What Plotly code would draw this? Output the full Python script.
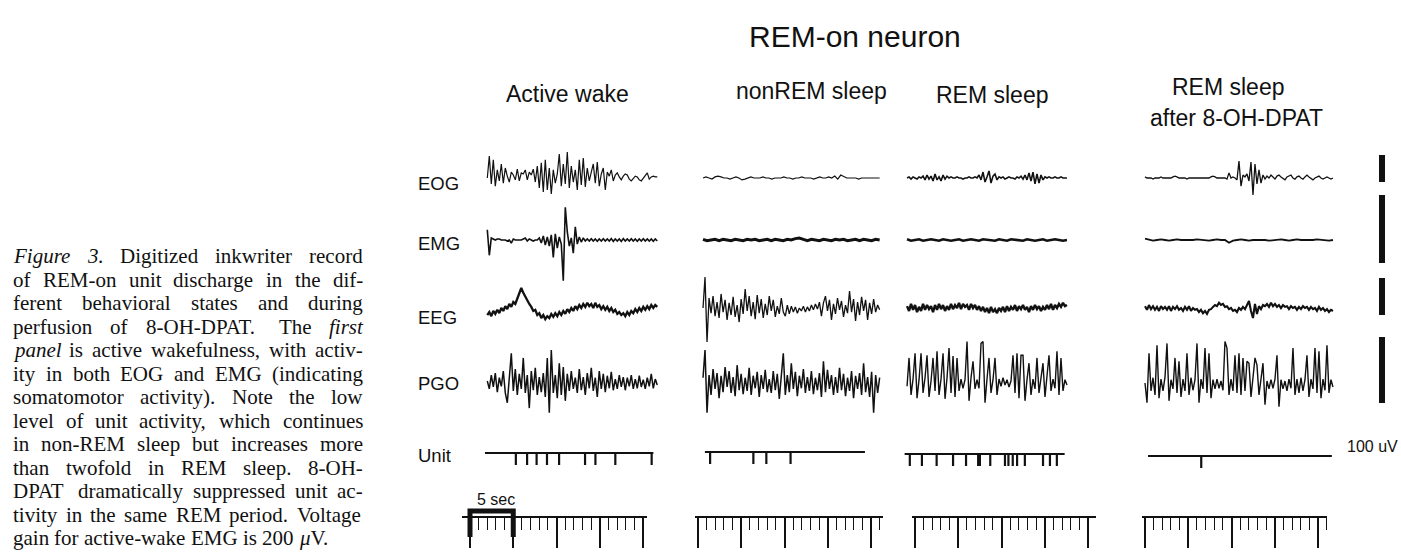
import numpy as np
import plotly.graph_objects as go

W, H = 1401, 553
PX_PER_S = 8.65          # paper speed of the record: pixels per second
INK = "#111111"

# ---------------- recorded channels (µV) ----------------
eog_wake = [0, 81, -22, 67, -30, 30, -11, 52, -19, 37, 7, -15, 22, 11, -7, 33, -11, 19, 15, 30,
            -7, 22, 11, 33, -15, 44, -37, 56, -52, 67, -44, 37, -59, 30, -19, 15, 89, -30, 52, -22,
            96, -37, 44, -15, 30, -44, 67, -26, 74, -33, 37, -11, 22, 52, -19, 59, -30, 15, 37, -44,
            22, 7, 30, -11, 11, 19, 4, -7, 7, 15, 11, -4, -11, 0, 7, 4, -7, -11, 0, 11,
            19, -4, 4, 7, 4, 4]
eog_nrem = [0, 4, 0, -4, 4, 7, 4, 0, 0, -4, 0, 4, 0, -7, -4, 0, 4, 0, 0, 0,
            4, 0, 0, -4, 0, 0, 0, 4, 0, 0, -4, 0, 0, 4, 0, 0, 0, -4, 0, 4,
            0, 0, 4, 0, 7, -4, 11, 4, 0, 0, 0, 0, -4, 0, 0, 0, 0, 0, 0, 0]
eog_rem = [0, 4, -4, 4, 0, -4, 4, 0, 7, -7, 11, -4, 7, -11, 15, -7, 4, -11, 11, -4,
           7, 0, 4, 0, 0, 4, 0, 0, -4, 0, 0, 4, 0, 0, 4, 0, 11, -7, 22, -15,
           4, 26, -19, 7, 15, -7, 4, 0, 4, -4, 0, 4, 0, 0, -4, 4, 0, 7, -4, 11,
           -7, 19, -11, 22, -22, 15, -19, 11, -7, 4, 0, 4, 0, 0, 4, 0, 0, 4, 0, 0, 0]
eog_dpat = [4, 0, 0, 0, -4, 0, 0, 0, 4, 0, 0, 0, 0, 0, 4, 7, 4, 0, 0, 0,
            0, -4, 0, 0, 0, 0, 0, 0, 0, 0, 0, 0, 0, 4, 7, 4, 0, 0, 0, 0,
            0, -4, 19, 0, 4, 0, -7, 63, -30, 11, 4, 15, -11, 59, -63, 52, -22, 30, -19, 11,
            -4, 7, 0, 11, 4, -4, 7, 11, 4, 0, -7, 4, 7, 11, 0, -4, 4, 7, 0, -4,
            4, 11, 4, 0, -7, 0, 4, 7, 0, -4, 0, 4, 0, -4, 0]

emg_wake = [30, -45, 6, 3, 0, 3, 3, 0, 0, 0, -3, 0, -9, 3, 0, 0, 0, 0, 3, 6,
            -3, 3, 0, -3, 0, 0, 6, -9, 12, -15, 9, -18, 15, -51, 18, -24, 9, -12, -120, 96,
            24, -18, 6, -39, 39, -12, 9, -6, 6, -3, 3, -3, 4, -3, 3, -4, 3, -3, 4, -3,
            3, -3, 4, -4, 3, -3, 3, -4, 4, -3, 3, -3, 4, -3, 3, -4, 3, -3, 4, -3,
            3, -3, 3, -4, 3, -3]
emg_nrem = [1, -1, 0, 1, -1, 1, 0, -1, 1, 0, -1, 1, 0, 1, -1, 0, 1, -1, 1, 0,
            -1, 1, 0, 2, 3, 1, -1, 1, 0, -1, 1, 0, -1, 1, 0, 1, -1, 0, 1, -1,
            1, 0, -1, 1, 0]
emg_rem = [1, -1, 0, 1, -1, 0, 1, 0, -1, 1, 0, -1, 0, 1, -1, 0, 1, 0, -1, 1,
           0, 0, -1, 1, 0, -1, 1, 0, 0, -1, 1, 0, -1, 0, 1, -1, 0, 1, 0, -1, 0]
emg_dpat = [2, 0, -1, 0, 1, 0, -1, 0, 1, 0, 0, -1, 0, 1, 0, 0, -1, 0, 1, 0,
            0, -4, -1, 0, 1, 0, -1, 0, 0, 1, 0, -1, 0, 0, 1, 0, -1, 0, 1, 0,
            0, -1, 0, 1, 0, 0, -1, 0]

eeg_wake = [-19, -11, -22, -8, -16, -5, -14, 0, -8, 5, -3, 11, 3, 16, 11, 27, 38, 54, 41, 30,
            22, 11, 3, -8, -5, -19, -14, -27, -19, -30, -22, -27, -16, -24, -14, -22, -11, -19, -8, -16,
            -3, -11, 0, -8, 5, -3, 8, 0, 11, 3, 14, 5, 11, 0, 14, 3, 8, -3, 5, -5,
            3, -8, 0, -11, -5, -16, -11, -19, -14, -22, -11, -19, -8, -14, -3, -11, 0, -8, 3, -5,
            5, -3, 8, 0, 8, 3]
eeg_nrem = [0, 84, -92, 27, -14, 32, -22, 16, -27, 38, -11, 22, -32, 14, -19, 30, -24, 8, -38, 24,
            -16, 51, -8, 32, -22, 16, -30, 35, -14, 24, -27, 11, -19, 32, -8, 22, -24, 5, -16, 27,
            -11, -22, 8, -16, 5, -11, 3, -14, 0, -8, 5, -11, 3, -8, 8, -5, 11, -3, 16, -22,
            14, 32, -8, 22, -32, 11, -16, 27, -5, 19, -24, 8, -14, 46, -11, 24, -35, 16, -19, 30,
            -8, 22, -32, 14, -16, 24, -11, 8, -5]
eeg_rem = [5, -8, 11, -5, 8, -11, 3, -8, 11, -5, 8, -3, 5, -11, 8, -5, 11, -3, 8, -8,
           5, -5, 11, -3, 8, 0, 14, -3, 11, 3, 8, -5, 11, 0, 8, -5, 5, -8, 3, -11,
           0, -14, 3, -11, -3, -14, 0, -8, 3, -11, 5, -8, 3, -5, 8, -8, 5, -3, 8, -5,
           3, -11, 5, -5, 8, -3, 5, -8, 3, -5, 8, -3, 11, -5, 8, 0, 11, 3, 14, 5, 8]
eeg_dpat = [5, -5, 8, -3, 5, -5, 3, -8, 5, -3, 3, -5, 5, -8, 3, -3, 5, -5, 0, -8,
            3, -5, 5, -8, 0, -5, -3, -11, -5, -14, -8, -16, -5, -3, 3, 8, 5, 14, 8, 11,
            3, 5, -3, 0, -8, -5, -11, 0, -5, 3, -3, 8, 19, -8, -27, 11, -16, 5, -3, 8,
            5, 11, 3, 14, 5, 11, 3, 8, 0, 8, 3, 5, -3, 5, 0, 3, -5, 3, -3, 5,
            0, 3, -5, 3, -3, 0, -8, 3, -5, 0, -8, -3, -11, -5, -8]

pgo_wake = [3, -9, 12, -6, 15, -14, 8, -5, 18, -15, -30, 9, 45, -12, 21, -18, 14, -9, 38, -15,
            12, -38, 18, -11, 23, -18, 9, -14, 15, -21, 38, -45, 50, -15, 12, -23, 30, -18, 24, -27,
            14, -12, 18, -9, 8, -15, 21, -11, 9, -18, 15, -8, 23, -12, 8, -21, 18, -9, 14, -14,
            11, -8, 17, -11, 6, -9, 12, -6, 9, -11, 8, -5, 12, -9, 6, -8, 11, -6, 5, -9,
            8, -5, 14, -8, 6, -3]
pgo_nrem = [8, 50, -45, 12, -18, 21, -9, 15, -23, 11, -14, 24, -6, 18, -15, 9, -20, 27, -11, 14,
            -17, 8, -12, 23, -18, 11, -8, 17, -21, 12, -9, 20, -14, 6, -15, 18, -11, 14, -24, 9,
            45, -18, 12, -14, 30, -9, 17, -20, 11, -8, 21, -15, 9, -12, 18, -17, 8, -11, 15, -21,
            33, -14, 20, -9, 12, -18, 9, -15, 23, -11, 14, -20, 8, -12, 18, -23, 11, -9, 15, -18,
            30, -14, 9, -21, 17, -45, 12, -15, 8]
pgo_rem = [-5, 38, -18, 6, 45, -23, 5, 45, -15, 8, 42, -21, 3, 38, -12, 48, -18, 6, 45, -24,
           8, 53, -15, 41, -21, 38, -12, 6, -8, 5, 63, -27, 8, 33, -9, 5, -8, 60, 63, -30,
           6, 38, -15, 5, 38, -18, 6, -5, 8, -3, 5, -6, 3, 42, -15, 45, -23, 42, 42, -27,
           5, 30, -18, 6, -9, 38, -15, 5, 30, -21, 8, 42, -12, 6, -8, 48, -18, 38, -12, 5, -3]
pgo_dpat = [0, -30, 45, -12, 8, -18, 57, -23, 6, -12, 9, 60, -27, 5, -9, 38, -15, 33, -21, 6,
            -12, 45, -18, 8, -11, 5, 60, -30, 6, -9, 53, -15, 45, -23, 5, -9, 6, -8, 3, -11,
            63, 53, -18, 6, -12, 42, -15, 45, -18, 38, -12, 33, 30, -21, 8, 38, 27, -18, 6, 30,
            -33, 3, -9, 5, -8, 6, 42, -36, 5, -9, 3, -12, 6, -8, 53, -18, 6, -15, 8, -12,
            5, 42, -21, 6, -9, 53, -15, 48, -23, 6, -11, 57, -15, 5, -6]

# unit discharges (spike times, s)
unit_wake = [5.3, 6.6, 7.7, 8.9, 10.3, 13.3, 14.5, 16.8, 21.0]
unit_nrem = [1.4, 6.4, 7.9, 10.7]
unit_rem = [-0.6, 0.8, 2.5, 4.4, 5.9, 7.3, 7.5, 8.7, 10.4, 10.8, 11.3, 11.8, 12.7, 14.8, 15.6, 16.4]
unit_dpat = [6.5]

# ---------------- layout of the record ----------------
STATES = ["wake", "nrem", "rem", "dpat"]
ROWS = ["EOG", "EMG", "EEG", "PGO"]
COL_T0_PX = {"wake": 470, "nrem": 698, "rem": 915, "dpat": 1145}
TRACE_SPAN = {"wake": (2.0, 21.65), "nrem": (0.58, 21.0), "rem": (-0.92, 17.57), "dpat": (0.0, 21.73)}
UNIT_SPAN = {"wake": (1.73, 21.2), "nrem": (0.8, 19.3), "rem": (-1.2, 17.3), "dpat": (0.35, 21.6)}
TIME_SPAN = {"wake": (-0.9, 20.5), "nrem": (-0.35, 21.4), "rem": (-0.35, 20.9), "dpat": (-0.35, 21.0)}
UNITS = {"wake": unit_wake, "nrem": unit_nrem, "rem": unit_rem, "dpat": unit_dpat}
UNIT_Y = {"wake": 453, "nrem": 452, "rem": 454, "dpat": 456}
SPIKE_LEN = 12
TIME_Y = 517

SIGNALS = {
    ("EOG", "wake"): eog_wake, ("EOG", "nrem"): eog_nrem, ("EOG", "rem"): eog_rem, ("EOG", "dpat"): eog_dpat,
    ("EMG", "wake"): emg_wake, ("EMG", "nrem"): emg_nrem, ("EMG", "rem"): emg_rem, ("EMG", "dpat"): emg_dpat,
    ("EEG", "wake"): eeg_wake, ("EEG", "nrem"): eeg_nrem, ("EEG", "rem"): eeg_rem, ("EEG", "dpat"): eeg_dpat,
    ("PGO", "wake"): pgo_wake, ("PGO", "nrem"): pgo_nrem, ("PGO", "rem"): pgo_rem, ("PGO", "dpat"): pgo_dpat,
}
LINE_W = {
    ("EOG", "wake"): 1.2, ("EOG", "nrem"): 1.2, ("EOG", "rem"): 1.6, ("EOG", "dpat"): 1.3,
    ("EMG", "wake"): 1.6, ("EMG", "nrem"): 3.0, ("EMG", "rem"): 2.6, ("EMG", "dpat"): 1.8,
    ("EEG", "wake"): 2.3, ("EEG", "nrem"): 1.3, ("EEG", "rem"): 2.4, ("EEG", "dpat"): 2.1,
    ("PGO", "wake"): 1.5, ("PGO", "nrem"): 1.5, ("PGO", "rem"): 1.4, ("PGO", "dpat"): 1.4,
}
ROW_CENTER_PX = {"EOG": 178, "EMG": 240, "EEG": 308, "PGO": 383}
CAL_UV = 100                                            # calibration bar value
BAR_PX = {"EOG": 27, "EMG": 68, "EEG": 37, "PGO": 66}   # bar length on the page
BAR_BOTTOM_PX = {"EOG": 182, "EMG": 263, "EEG": 315, "PGO": 403}
BAR_T = 27.4                                            # seconds after the last column's origin
EMG_CAL = {"wake": 200, "nrem": 100, "rem": 100, "dpat": 100}

SANS = "Liberation Sans, Arial, Helvetica, sans-serif"
SERIF = "Liberation Serif, Times New Roman, serif"


def xname(i):
    return "x" if i == 1 else f"x{i}"


def lname(i, axis="x"):
    return f"{axis}axis" if i == 1 else f"{axis}axis{i}"


fig = go.Figure()
layout = {}

# one x axis per column (seconds) spanning the whole page
for c, st in enumerate(STATES, start=1):
    t0 = COL_T0_PX[st]
    layout[lname(c)] = dict(domain=[0, 1], range=[-t0 / PX_PER_S, (W - t0) / PX_PER_S],
                            visible=False, fixedrange=True, anchor="y")

# page overlay (pixels, top-down) for event rows
layout["yaxis"] = dict(domain=[0, 1], range=[H, 0], visible=False, fixedrange=True, anchor="x")
# one y axis per channel (µV)
for r, row in enumerate(ROWS, start=2):
    k = BAR_PX[row] / CAL_UV
    cy = ROW_CENTER_PX[row]
    layout[lname(r, "y")] = dict(domain=[0, 1], range=[(cy - H) / k, cy / k],
                                 visible=False, fixedrange=True, anchor="x")

# channel traces
for r, row in enumerate(ROWS, start=2):
    for c, st in enumerate(STATES, start=1):
        v = np.asarray(SIGNALS[(row, st)], dtype=float)
        if row == "EMG":
            v = v * CAL_UV / EMG_CAL[st]
        t = np.linspace(TRACE_SPAN[st][0], TRACE_SPAN[st][1], len(v))
        fig.add_trace(go.Scatter(x=t, y=v, xaxis=xname(c), yaxis=f"y{r}", mode="lines",
                                 line=dict(color=INK, width=LINE_W[(row, st)]),
                                 hoverinfo="skip", showlegend=False))

# calibration bars
for r, row in enumerate(ROWS, start=2):
    k = BAR_PX[row] / CAL_UV
    v0 = (ROW_CENTER_PX[row] - BAR_BOTTOM_PX[row]) / k
    fig.add_trace(go.Scatter(x=[BAR_T, BAR_T], y=[v0, v0 + CAL_UV], xaxis=xname(4), yaxis=f"y{r}",
                             mode="lines", line=dict(color=INK, width=6),
                             hoverinfo="skip", showlegend=False))

# unit discharge rows
for c, st in enumerate(STATES, start=1):
    yb = UNIT_Y[st]
    xs = list(UNIT_SPAN[st])
    ys = [yb, yb]
    for s in UNITS[st]:
        xs += [None, s, s]
        ys += [None, yb, yb + SPIKE_LEN]
    fig.add_trace(go.Scatter(x=xs, y=ys, xaxis=xname(c), yaxis="y", mode="lines",
                             line=dict(color=INK, width=2.2), connectgaps=False,
                             hoverinfo="skip", showlegend=False))

# time-mark rows: 1 s ticks, long tick every 5 s
for c, st in enumerate(STATES, start=5):
    t0 = COL_T0_PX[st]
    a, b = TIME_SPAN[st]
    layout[lname(c)] = dict(
        domain=[(t0 + a * PX_PER_S) / W, (t0 + b * PX_PER_S) / W], range=[a, b],
        anchor="free", position=1 - TIME_Y / H, visible=True, fixedrange=True,
        showline=True, linecolor=INK, linewidth=1.6, showgrid=False, zeroline=False,
        showticklabels=False, ticks="outside", tickmode="linear", tick0=0, dtick=5,
        ticklen=30, tickwidth=1.8, tickcolor=INK,
        minor=dict(ticks="outside", tickmode="linear", tick0=0, dtick=1, ticklen=12,
                   tickwidth=1.3, tickcolor=INK, showgrid=False))
    if st == "wake":
        # 5 s calibration bracket
        fig.add_trace(go.Scatter(x=[0, 0, 5, 5], y=[537, 511, 511, 537], xaxis=xname(c), yaxis="y",
                                 mode="lines", line=dict(color=INK, width=5),
                                 hoverinfo="skip", showlegend=False))
    else:
        fig.add_trace(go.Scatter(x=[a], y=[TIME_Y], xaxis=xname(c), yaxis="y", mode="markers",
                                 marker=dict(opacity=0), hoverinfo="skip", showlegend=False))

# ---------------- text ----------------
ann = []


def label(text, x, y, size, xanchor="center", family=SANS):
    ann.append(dict(text=text, x=x / W, y=1 - y / H, xref="paper", yref="paper", showarrow=False,
                    xanchor=xanchor, yanchor="middle", borderpad=0,
                    font=dict(family=family, size=size, color=INK)))


label("REM-on neuron", 855, 37, 30)
label("Active wake", 567, 94, 23)
label("nonREM sleep", 811, 91, 23)
label("REM sleep", 992, 95, 23)
label("REM sleep", 1228, 87, 23)
label("after 8-OH-DPAT", 1236, 118, 23)
for name, y in [("EOG", 183), ("EMG", 243), ("EEG", 317), ("PGO", 383), ("Unit", 455)]:
    label(name, 417, y, 18.5, xanchor="left")
label("5 sec", 496, 499, 16)
label("100 uV", 1372, 447, 16)

# figure legend, set justified in Times
ROMAN = dict(zip("abcdefghijklmnopqrstuvwxyz",
                 [444, 500, 444, 500, 444, 333, 500, 500, 278, 278, 500, 278, 778, 500, 500, 500, 500,
                  333, 389, 278, 500, 500, 722, 500, 500, 444]))
ROMAN.update(zip("ABCDEFGHIJKLMNOPQRSTUVWXYZ",
                 [722, 667, 667, 722, 611, 556, 722, 722, 333, 389, 722, 611, 889, 722, 722, 556, 722,
                  667, 556, 611, 722, 722, 944, 722, 722, 611]))
ROMAN.update({d: 500 for d in "0123456789"})
ROMAN.update({" ": 250, ".": 250, ",": 250, "-": 333, "(": 333, ")": 333, "μ": 576})
ITALIC = dict(ROMAN)
ITALIC.update(dict(zip("abcdefghijklmnopqrstuvwxyz",
                       [500, 500, 444, 500, 444, 278, 500, 500, 278, 278, 444, 278, 722, 500, 500, 500,
                        500, 389, 389, 278, 500, 444, 667, 444, 444, 389])))
ITALIC.update({"F": 611, "V": 611, "μ": 500})

CAPTION = [
    "*Figure* *3.* Digitized inkwriter record",
    "of REM-on unit discharge in the dif-",
    "ferent behavioral states and during",
    "perfusion of 8-OH-DPAT. The *first*",
    "*panel* is active wakefulness, with activ-",
    "ity in both EOG and EMG (indicating",
    "somatomotor activity). Note the low",
    "level of unit activity, which continues",
    "in non-REM sleep but increases more",
    "than twofold in REM sleep. 8-OH-",
    "DPAT dramatically suppressed unit ac-",
    "tivity in the same REM period. Voltage",
    "gain for active-wake EMG is 200 *μ*V.",
]
CAP_SIZE = 21
CAP_LEFT, CAP_RIGHT = 12, 362
CAP_BASE0, CAP_LEAD = 263, 23.5


def word_parts(word):
    parts = word.split("*")
    return [(p, i % 2 == 1) for i, p in enumerate(parts) if p]


def word_width(word):
    return sum(sum((ITALIC if it else ROMAN).get(ch, 500) for ch in p) for p, it in word_parts(word)) \
        * CAP_SIZE / 1000


def word_html(word):
    return "".join(f"<i>{p}</i>" if it else p for p, it in word_parts(word))


for i, line in enumerate(CAPTION):
    words = line.split(" ")
    widths = [word_width(w) for w in words]
    last = i == len(CAPTION) - 1
    if last or len(words) == 1:
        gap = ROMAN[" "] * CAP_SIZE / 1000
    else:
        gap = (CAP_RIGHT - CAP_LEFT - sum(widths)) / (len(words) - 1)
    x = CAP_LEFT
    yc = CAP_BASE0 + i * CAP_LEAD - 7
    for w, wd in zip(words, widths):
        label(word_html(w), x, yc, CAP_SIZE, xanchor="left", family=SERIF)
        x += wd + gap

fig.update_layout(width=W, height=H, margin=dict(l=0, r=0, t=0, b=0),
                  paper_bgcolor="white", plot_bgcolor="rgba(0,0,0,0)",
                  showlegend=False, annotations=ann, **layout)

fig.write_html("out.html")
